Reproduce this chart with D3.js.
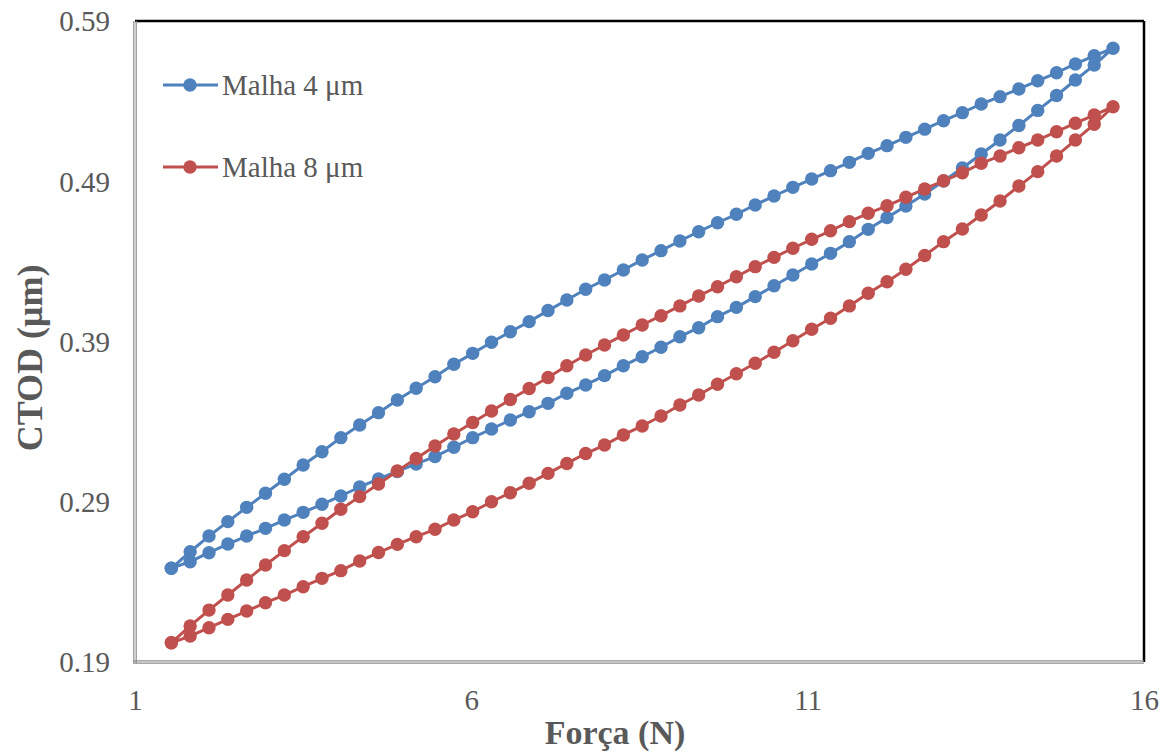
<!DOCTYPE html>
<html>
<head>
<meta charset="utf-8">
<script src="https://cdn.jsdelivr.net/npm/d3@7"></script>
<style>
  html, body { margin: 0; padding: 0; background: #ffffff; }
  svg { display: block; }
  text { font-family: "Liberation Serif", "Times New Roman", serif; fill: #595959; }
</style>
</head>
<body>
<svg id="chart" width="1169" height="756"></svg>
<script>
// Applied force (N), shared by every branch of the load cycle
const force = [
  1.54, 1.82, 2.10, 2.38, 2.66, 2.94, 3.22, 3.50, 3.78, 4.06,
  4.34, 4.62, 4.90, 5.18, 5.46, 5.74, 6.02, 6.30, 6.58, 6.86,
  7.14, 7.42, 7.70, 7.98, 8.26, 8.54, 8.82, 9.10, 9.38, 9.66,
  9.94, 10.22, 10.50, 10.78, 11.06, 11.34, 11.62, 11.90, 12.18, 12.46,
  12.74, 13.02, 13.30, 13.58, 13.86, 14.14, 14.42, 14.70, 14.98, 15.26,
  15.54
];

// CTOD (µm) – 4 µm mesh, lower branch
const ctod4Lower = [
  0.2485, 0.2526, 0.2582, 0.2636, 0.2686, 0.2734, 0.2786, 0.2834, 0.2884, 0.2936,
  0.2992, 0.3042, 0.3089, 0.3136, 0.3182, 0.3240, 0.3300, 0.3354, 0.3410, 0.3462,
  0.3514, 0.3577, 0.3629, 0.3687, 0.3749, 0.3805, 0.3864, 0.3930, 0.3986, 0.4055,
  0.4113, 0.4180, 0.4248, 0.4315, 0.4384, 0.4450, 0.4523, 0.4600, 0.4673, 0.4746,
  0.4820, 0.4902, 0.4983, 0.5070, 0.5157, 0.5248, 0.5342, 0.5435, 0.5532, 0.5625,
  0.5730
];
// CTOD (µm) – 4 µm mesh, upper branch
const ctod4Upper = [
  0.2485, 0.2588, 0.2686, 0.2776, 0.2865, 0.2953, 0.3040, 0.3129, 0.3212, 0.3300,
  0.3379, 0.3456, 0.3535, 0.3608, 0.3680, 0.3758, 0.3826, 0.3895, 0.3961, 0.4024,
  0.4093, 0.4159, 0.4226, 0.4284, 0.4346, 0.4409, 0.4467, 0.4527, 0.4585, 0.4641,
  0.4694, 0.4752, 0.4808, 0.4862, 0.4914, 0.4966, 0.5018, 0.5074, 0.5122, 0.5174,
  0.5225, 0.5278, 0.5328, 0.5382, 0.5428, 0.5476, 0.5527, 0.5577, 0.5632, 0.5683,
  0.5730
];
// CTOD (µm) – 8 µm mesh, lower branch
const ctod8Lower = [
  0.2020, 0.2062, 0.2114, 0.2166, 0.2218, 0.2270, 0.2318, 0.2370, 0.2422, 0.2470,
  0.2530, 0.2583, 0.2634, 0.2682, 0.2728, 0.2786, 0.2838, 0.2900, 0.2956, 0.3015,
  0.3077, 0.3139, 0.3201, 0.3254, 0.3317, 0.3373, 0.3435, 0.3504, 0.3566, 0.3633,
  0.3699, 0.3764, 0.3833, 0.3905, 0.3976, 0.4045, 0.4122, 0.4201, 0.4273, 0.4351,
  0.4437, 0.4523, 0.4602, 0.4689, 0.4777, 0.4870, 0.4960, 0.5058, 0.5157, 0.5255,
  0.5365
];
// CTOD (µm) – 8 µm mesh, upper branch
const ctod8Upper = [
  0.2020, 0.2125, 0.2224, 0.2318, 0.2412, 0.2505, 0.2595, 0.2682, 0.2766, 0.2853,
  0.2932, 0.3011, 0.3092, 0.3170, 0.3248, 0.3323, 0.3395, 0.3466, 0.3538, 0.3607,
  0.3675, 0.3749, 0.3816, 0.3878, 0.3941, 0.4003, 0.4061, 0.4122, 0.4184, 0.4242,
  0.4304, 0.4367, 0.4425, 0.4482, 0.4538, 0.4591, 0.4648, 0.4700, 0.4747, 0.4800,
  0.4852, 0.4903, 0.4953, 0.5012, 0.5058, 0.5109, 0.5157, 0.5209, 0.5262, 0.5313,
  0.5365
];

const seriesNames = ["Malha 4 μm", "Malha 8 μm"];
const seriesColors = ["#4F81BD", "#C0504D"];
const xTicks = [1, 6, 11, 16];
const yTicks = [0.19, 0.29, 0.39, 0.49, 0.59];

// Plot frame
const plotLeft = 135, plotRight = 1144, plotTop = 21, plotBottom = 662;

const svg = d3.select("#chart");
const x = d3.scaleLinear().domain([1, 16]).range([plotLeft, plotRight]);
const y = d3.scaleLinear().domain([0.19, 0.59]).range([plotBottom, plotTop]);

// One closed loop per mesh: along the lower branch, back along the upper one
function loop(lower, upper) {
  const up = force.map((f, i) => ({ f, v: lower[i] }));
  const down = force.map((f, i) => ({ f, v: upper[i] })).reverse().slice(1);
  return up.concat(down);
}
const series = [
  { name: seriesNames[0], color: seriesColors[0], pts: loop(ctod4Lower, ctod4Upper) },
  { name: seriesNames[1], color: seriesColors[1], pts: loop(ctod8Lower, ctod8Upper) }
];

// Frame: black top/right, grey double rule on left/bottom
svg.append("line").attr("x1", plotLeft).attr("x2", plotRight).attr("y1", plotTop).attr("y2", plotTop)
  .attr("stroke", "#000").attr("stroke-width", 2.5);
svg.append("line").attr("x1", plotRight).attr("x2", plotRight).attr("y1", plotTop).attr("y2", plotBottom)
  .attr("stroke", "#000").attr("stroke-width", 2.5);

// Axes (labels only; the rules are drawn separately)
const xAxis = d3.axisBottom(x).tickValues(xTicks).tickSize(0).tickPadding(0).tickFormat(d3.format("d"));
const yAxis = d3.axisLeft(y).tickValues(yTicks).tickSize(0).tickPadding(0).tickFormat(d3.format(".2f"));

const gx = svg.append("g").attr("transform", `translate(0,${plotBottom})`).call(xAxis);
gx.select(".domain").remove();
gx.selectAll("text").attr("font-size", 29).attr("dy", null).attr("y", 48)
  .style("font-family", "'Liberation Serif', serif").attr("fill", "#595959");

const gy = svg.append("g").attr("transform", `translate(${plotLeft},0)`).call(yAxis);
gy.select(".domain").remove();
gy.selectAll("text").attr("font-size", 29).attr("x", -25).attr("dy", "0.34em")
  .style("font-family", "'Liberation Serif', serif").attr("fill", "#595959");

// Left and bottom rules
[-1.2, 1.2].forEach(d => {
  svg.append("line").attr("x1", plotLeft + d).attr("x2", plotLeft + d).attr("y1", plotTop).attr("y2", plotBottom + 1.5)
    .attr("stroke", "#8c8c8c").attr("stroke-width", 1.2);
  svg.append("line").attr("x1", plotLeft - 1.5).attr("x2", plotRight).attr("y1", plotBottom + d).attr("y2", plotBottom + d)
    .attr("stroke", "#8c8c8c").attr("stroke-width", 1.2);
});

// Series
const line = d3.line().x(d => x(d.f)).y(d => y(d.v));
series.forEach(s => {
  const g = svg.append("g");
  g.append("path").datum(s.pts).attr("d", line)
    .attr("fill", "none").attr("stroke", s.color).attr("stroke-width", 3).attr("stroke-linejoin", "round");
  g.selectAll("circle").data(s.pts).join("circle")
    .attr("cx", d => x(d.f)).attr("cy", d => y(d.v)).attr("r", 6.7).attr("fill", s.color);
});

// Legend
const legend = svg.append("g");
series.forEach((s, i) => {
  const ly = 85 + i * 82;
  legend.append("line").attr("x1", 163).attr("x2", 218).attr("y1", ly).attr("y2", ly)
    .attr("stroke", s.color).attr("stroke-width", 3);
  legend.append("circle").attr("cx", 190).attr("cy", ly).attr("r", 6.7).attr("fill", s.color);
  legend.append("text").attr("x", 222).attr("y", ly + 10).attr("font-size", 29).text(s.name);
});

// Axis titles
svg.append("text").attr("x", 615).attr("y", 744).attr("text-anchor", "middle")
  .attr("font-size", 34).attr("font-weight", "bold").text("Força (N)");
svg.append("text").attr("transform", "translate(42,358) rotate(-90)").attr("text-anchor", "middle")
  .attr("font-size", 36).attr("font-weight", "bold").text("CTOD (μm)");
</script>
</body>
</html>
